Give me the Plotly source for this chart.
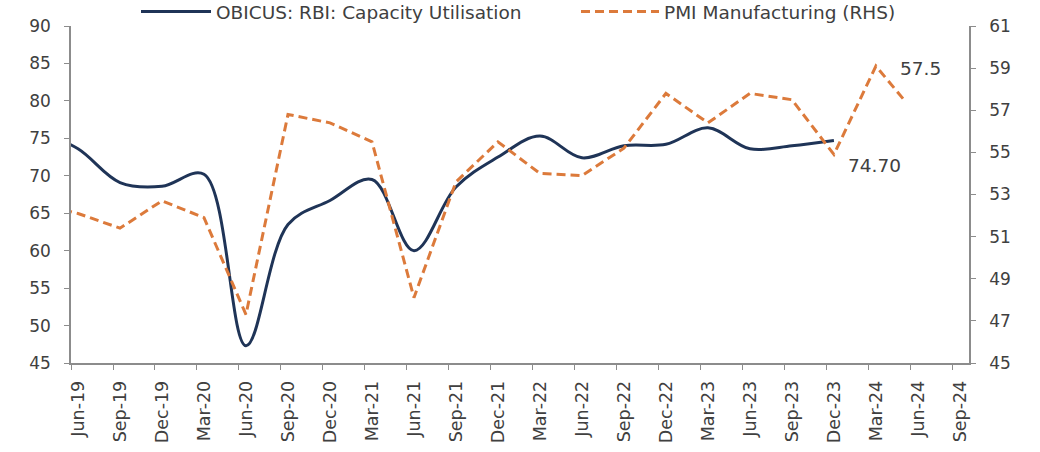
import pandas as pd
import plotly.graph_objects as go

# Quarterly RBI OBICUS capacity utilisation (%), quarter-end months
cu_dates = ["Mar-19", "Jun-19", "Sep-19", "Dec-19", "Mar-20", "Jun-20", "Sep-20",
            "Dec-20", "Mar-21", "Jun-21", "Sep-21", "Dec-21", "Mar-22", "Jun-22",
            "Sep-22", "Dec-22", "Mar-23", "Jun-23", "Sep-23", "Dec-23"]
cu_values = [76.1, 73.6, 69.1, 68.6, 70.2, 47.3, 63.5, 66.7, 69.5, 60.0, 68.5,
             72.5, 75.3, 72.4, 74.0, 74.2, 76.4, 73.6, 74.0, 74.7]

# PMI Manufacturing (right-hand scale)
pmi_dates = ["Mar-19", "Jun-19", "Sep-19", "Dec-19", "Mar-20", "Jun-20", "Sep-20",
             "Dec-20", "Mar-21", "Jun-21", "Sep-21", "Dec-21", "Mar-22", "Jun-22",
             "Sep-22", "Dec-22", "Mar-23", "Jun-23", "Sep-23", "Dec-23", "Mar-24",
             "May-24"]
pmi_values = [52.6, 52.1, 51.4, 52.7, 51.9, 47.3, 56.8, 56.4, 55.5, 48.1, 53.6,
              55.5, 54.0, 53.9, 55.2, 57.8, 56.4, 57.8, 57.5, 54.9, 59.1, 57.5]

# Axis tick labels, every quarter
tick_labels = ["Jun-19", "Sep-19", "Dec-19", "Mar-20", "Jun-20", "Sep-20", "Dec-20",
               "Mar-21", "Jun-21", "Sep-21", "Dec-21", "Mar-22", "Jun-22", "Sep-22",
               "Dec-22", "Mar-23", "Jun-23", "Sep-23", "Dec-23", "Mar-24", "Jun-24",
               "Sep-24"]

cu_label = "74.70"
pmi_label = "57.5"


def month_index(label):
    d = pd.to_datetime(label, format="%b-%y")
    return (d.year - 2019) * 12 + d.month - 6


def month_centre(label):
    # points sit in the middle of their month
    return month_index(label) + 0.5


FONT = "DejaVu Sans"
TEXT = "#404040"
AXIS = "#8c8c8c"
NAVY = "#1f3457"
ORANGE = "#dc7a3b"

fig = go.Figure()

fig.add_trace(go.Scatter(
    x=[month_centre(d) for d in cu_dates], y=cu_values,
    name="OBICUS: RBI: Capacity Utilisation", mode="lines",
    line=dict(color=NAVY, width=3, shape="spline", smoothing=1.0),
    yaxis="y", legend="legend",
))

fig.add_trace(go.Scatter(
    x=[month_centre(d) for d in pmi_dates], y=pmi_values,
    name="PMI Manufacturing (RHS)", mode="lines",
    line=dict(color=ORANGE, width=3, dash="9px,5px"),
    yaxis="y2", legend="legend2",
))

fig.add_annotation(x=month_centre(cu_dates[-1]), y=cu_values[-1], xref="x", yref="y",
                   text=cu_label, showarrow=False, xshift=41, yshift=-25,
                   font=dict(family=FONT, size=18.5, color=TEXT))
fig.add_annotation(x=month_centre(pmi_dates[-1]), y=pmi_values[-1], xref="x", yref="y2",
                   text=pmi_label, showarrow=False, xshift=17, yshift=31,
                   font=dict(family=FONT, size=18.5, color=TEXT))

tick_vals = [month_index(t) for t in tick_labels]

legend_common = dict(
    orientation="h", xref="container", yref="container",
    y=1 - 12 / 452, yanchor="middle", xanchor="left",
    font=dict(family=FONT, size=18.5, color=TEXT), bgcolor="rgba(0,0,0,0)",
)

fig.update_layout(
    width=1040, height=452,
    margin=dict(l=71, r=71, t=26, b=89, autoexpand=False),
    paper_bgcolor="white", plot_bgcolor="white",
    font=dict(family=FONT, size=16, color=TEXT),
    showlegend=True,
    legend=dict(x=136 / 1040, itemwidth=70, **legend_common),
    legend2=dict(x=576 / 1040, itemwidth=78, **legend_common),
    xaxis=dict(
        range=[0, 64.15], tickmode="array", tickvals=tick_vals, ticktext=tick_labels,
        tickangle=-90, ticks="outside", ticklen=5, tickcolor=AXIS,
        showline=True, linecolor=AXIS, linewidth=1.5, showgrid=False, zeroline=False,
        ticklabelshift=7, ticklabelstandoff=4,
        tickfont=dict(family=FONT, size=17.5, color=TEXT),
    ),
    yaxis=dict(
        range=[45, 90], dtick=5, ticks="outside", ticklen=5, tickcolor=AXIS,
        showline=True, linecolor=AXIS, linewidth=1.5, showgrid=False, zeroline=False,
        ticklabelstandoff=10, tickfont=dict(family=FONT, size=17, color=TEXT),
    ),
    yaxis2=dict(
        range=[45, 61], tick0=45, dtick=2, overlaying="y", side="right", ticks="outside",
        ticklen=5, tickcolor=AXIS, showline=True, linecolor=AXIS, linewidth=1.5,
        showgrid=False, zeroline=False,
        ticklabelstandoff=10, tickfont=dict(family=FONT, size=17, color=TEXT),
    ),
)

fig.write_html("out.html")
